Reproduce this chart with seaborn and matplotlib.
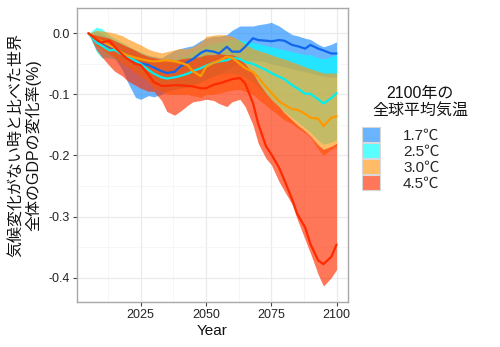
import numpy as np
import pandas as pd
import matplotlib
matplotlib.use("Agg")
import matplotlib.pyplot as plt
import seaborn as sns
from matplotlib.patches import Patch
from matplotlib.colors import to_rgb

# ---------------- data ----------------
years = [2005, 2008, 2010, 2013, 2015, 2018, 2020, 2023, 2025, 2028,
         2030, 2033, 2035, 2038, 2040, 2043, 2045, 2048, 2050, 2053,
         2055, 2058, 2060, 2063, 2065, 2068, 2070, 2073, 2075, 2078,
         2080, 2083, 2085, 2088, 2090, 2093, 2095, 2098, 2100]

scenarios = ["1.7℃", "2.5℃", "3.0℃", "4.5℃"]

t17_mean = [0.000, -0.012, -0.015, -0.022, -0.025, -0.032, -0.036, -0.046, -0.049, -0.052,
            -0.056, -0.062, -0.065, -0.063, -0.055, -0.047, -0.042, -0.032, -0.028, -0.030,
            -0.033, -0.022, -0.030, -0.030, -0.022, -0.008, -0.011, -0.012, -0.013, -0.011,
            -0.012, -0.019, -0.021, -0.025, -0.019, -0.025, -0.028, -0.033, -0.033]
t17_low = [0.000, -0.015, -0.020, -0.030, -0.040, -0.060, -0.080, -0.105, -0.108, -0.102,
           -0.104, -0.100, -0.095, -0.092, -0.090, -0.088, -0.085, -0.080, -0.075, -0.070,
           -0.065, -0.060, -0.055, -0.048, -0.045, -0.045, -0.045, -0.047, -0.050, -0.053,
           -0.055, -0.058, -0.060, -0.063, -0.065, -0.068, -0.070, -0.072, -0.072]
t17_high = [0.000, 0.003, 0.000, -0.008, -0.012, -0.018, -0.022, -0.028, -0.032, -0.036,
            -0.038, -0.040, -0.035, -0.028, -0.025, -0.022, -0.020, -0.012, -0.008, -0.005,
            -0.005, -0.002, 0.005, 0.012, 0.012, 0.012, 0.014, 0.016, 0.018, 0.012,
            0.006, -0.002, -0.004, -0.008, -0.010, -0.018, -0.022, -0.018, -0.014]

t25_mean = [0.000, -0.015, -0.020, -0.028, -0.027, -0.035, -0.038, -0.045, -0.050, -0.060,
            -0.066, -0.072, -0.074, -0.072, -0.070, -0.066, -0.062, -0.057, -0.053, -0.048,
            -0.046, -0.044, -0.040, -0.042, -0.047, -0.050, -0.054, -0.060, -0.065, -0.071,
            -0.075, -0.085, -0.090, -0.099, -0.099, -0.108, -0.115, -0.106, -0.098]
t25_low = [0.000, -0.030, -0.040, -0.040, -0.042, -0.047, -0.052, -0.060, -0.065, -0.075,
           -0.082, -0.088, -0.090, -0.090, -0.088, -0.085, -0.082, -0.078, -0.075, -0.070,
           -0.068, -0.065, -0.065, -0.068, -0.072, -0.080, -0.088, -0.100, -0.108, -0.120,
           -0.128, -0.138, -0.145, -0.155, -0.162, -0.175, -0.182, -0.178, -0.175]
t25_high = [0.000, 0.010, 0.008, -0.003, -0.008, -0.015, -0.020, -0.027, -0.030, -0.037,
            -0.040, -0.045, -0.045, -0.042, -0.040, -0.035, -0.030, -0.024, -0.020, -0.016,
            -0.015, -0.012, -0.010, -0.011, -0.012, -0.015, -0.017, -0.020, -0.022, -0.025,
            -0.027, -0.030, -0.032, -0.035, -0.035, -0.040, -0.042, -0.038, -0.035]

t30_mean = [0.000, -0.010, -0.013, -0.020, -0.024, -0.032, -0.036, -0.040, -0.042, -0.045,
            -0.046, -0.045, -0.044, -0.046, -0.048, -0.052, -0.062, -0.070, -0.055, -0.048,
            -0.045, -0.038, -0.040, -0.050, -0.057, -0.063, -0.072, -0.088, -0.097, -0.111,
            -0.117, -0.124, -0.125, -0.132, -0.138, -0.140, -0.152, -0.138, -0.136]
t30_low = [0.000, -0.020, -0.025, -0.035, -0.040, -0.050, -0.055, -0.065, -0.070, -0.080,
           -0.090, -0.095, -0.100, -0.100, -0.100, -0.100, -0.102, -0.105, -0.100, -0.100,
           -0.098, -0.095, -0.093, -0.092, -0.095, -0.100, -0.108, -0.118, -0.125, -0.135,
           -0.142, -0.148, -0.155, -0.163, -0.170, -0.190, -0.200, -0.190, -0.185]
t30_high = [0.000, 0.005, 0.004, 0.002, 0.000, -0.004, -0.009, -0.015, -0.019, -0.026,
            -0.029, -0.032, -0.030, -0.027, -0.025, -0.025, -0.022, -0.015, -0.005, -0.003,
            -0.002, -0.003, -0.005, -0.012, -0.018, -0.025, -0.028, -0.032, -0.035, -0.040,
            -0.042, -0.047, -0.050, -0.055, -0.058, -0.062, -0.065, -0.065, -0.065]

t45_mean = [0.000, -0.010, -0.015, -0.012, -0.022, -0.035, -0.042, -0.050, -0.052, -0.068,
            -0.080, -0.086, -0.086, -0.085, -0.085, -0.086, -0.087, -0.090, -0.090, -0.084,
            -0.082, -0.078, -0.075, -0.073, -0.082, -0.114, -0.148, -0.185, -0.198, -0.220,
            -0.240, -0.272, -0.296, -0.318, -0.345, -0.372, -0.378, -0.366, -0.346]
t45_low = [0.000, -0.027, -0.038, -0.053, -0.062, -0.070, -0.078, -0.085, -0.090, -0.095,
           -0.095, -0.110, -0.128, -0.134, -0.128, -0.118, -0.112, -0.110, -0.108, -0.110,
           -0.115, -0.120, -0.112, -0.108, -0.120, -0.150, -0.180, -0.205, -0.215, -0.243,
           -0.258, -0.280, -0.305, -0.338, -0.360, -0.395, -0.414, -0.400, -0.387]
t45_high = [0.000, -0.003, -0.005, -0.008, -0.012, -0.018, -0.022, -0.028, -0.033, -0.038,
            -0.040, -0.043, -0.045, -0.045, -0.042, -0.040, -0.040, -0.038, -0.035, -0.035,
            -0.033, -0.035, -0.035, -0.040, -0.050, -0.065, -0.080, -0.098, -0.108, -0.120,
            -0.130, -0.142, -0.150, -0.160, -0.168, -0.183, -0.190, -0.185, -0.180]

x_ticks = [2025, 2050, 2075, 2100]
y_ticks = [-0.4, -0.3, -0.2, -0.1, 0.0]

y_title = "気候変化がない時と比べた世界\n全体のGDPの変化率(%)"
x_title = "Year"
legend_title = "2100年の\n全球平均気温"

# ---------------- style ----------------
fill_colors = ["#1a8cff", "#00ffff", "#ff9714", "#ff2e00"]
line_colors = ["#1166ee", "#00f0f0", "#ff9900", "#ff2a00"]
fill_alpha = 0.65

sns.set_theme(style="white")
plt.rcParams["font.family"] = ["Liberation Sans", "Noto Sans CJK JP", "DejaVu Sans"]
plt.rcParams["axes.unicode_minus"] = False

means = [t17_mean, t25_mean, t30_mean, t45_mean]
lows = [t17_low, t25_low, t30_low, t45_low]
highs = [t17_high, t25_high, t30_high, t45_high]

df = pd.DataFrame({
    "year": np.tile(years, len(scenarios)),
    "value": np.concatenate(means),
    "scenario": np.repeat(scenarios, len(years)),
})

W, H = 500, 347
fig = plt.figure(figsize=(W / 100, H / 100), dpi=100)
L, R, T, B = 77, 348, 7.7, 302
ax = fig.add_axes([L / W, 1 - B / H, (R - L) / W, (B - T) / H])

for lo, hi, c in zip(lows, highs, fill_colors):
    ax.fill_between(years, lo, hi, color=c, alpha=fill_alpha, lw=0, zorder=2)

sns.lineplot(data=df, x="year", y="value", hue="scenario", hue_order=scenarios,
             palette=line_colors, lw=1.6, legend=False, ax=ax, zorder=3)

ax.set_xlim(2000.6, 2104.4)
ax.set_ylim(-0.44, 0.042)
ax.set_xticks(x_ticks)
ax.set_xticks([2012.5, 2037.5, 2062.5, 2087.5], minor=True)
ax.set_yticks(y_ticks)
ax.set_yticks([-0.35, -0.25, -0.15, -0.05], minor=True)
ax.set_xticklabels([str(v) for v in x_ticks])
ax.set_yticklabels([f"{v:.1f}" for v in y_ticks])
ax.grid(which="major", color="#EBEBEB", lw=0.9)
ax.grid(which="minor", color="#F3F3F3", lw=0.5)
ax.set_axisbelow(True)
ax.tick_params(which="major", length=3, width=0.8, color="#444444",
               labelsize=9, labelcolor="#222222", pad=2, bottom=True, left=True)
ax.tick_params(which="minor", length=0)
for s in ax.spines.values():
    s.set_color("#A8A8A8")
    s.set_linewidth(1.0)
ax.set_xlabel(x_title, fontsize=11, labelpad=2, color="#111111")
ax.set_ylabel("")

fig.text(25 / W, 1 - 145 / H, y_title, rotation=90, ha="center", va="center",
         fontsize=11.5, linespacing=1.05, multialignment="center", color="#111111")

# legend
def blend(c, a):
    r = np.array(to_rgb(c))
    return tuple(a * r + (1 - a))

handles = [Patch(facecolor=blend(c, fill_alpha), edgecolor="#D8D8D8", lw=0.8)
           for c in fill_colors]
fig.text(420 / W, 1 - 102 / H, legend_title, ha="center", va="center",
         fontsize=11.5, linespacing=1.15, multialignment="center", color="#111111")
fs = 11
px = fs * 100 / 72
fig.legend(handles, scenarios, loc="upper left", bbox_to_anchor=(362 / W, 1 - 127 / H),
           frameon=False, borderpad=0, borderaxespad=0, handlelength=18 / px,
           handleheight=18 / px, handletextpad=(403 - 380) / px, labelspacing=0,
           fontsize=fs)

fig.savefig("out.png", dpi=100)
